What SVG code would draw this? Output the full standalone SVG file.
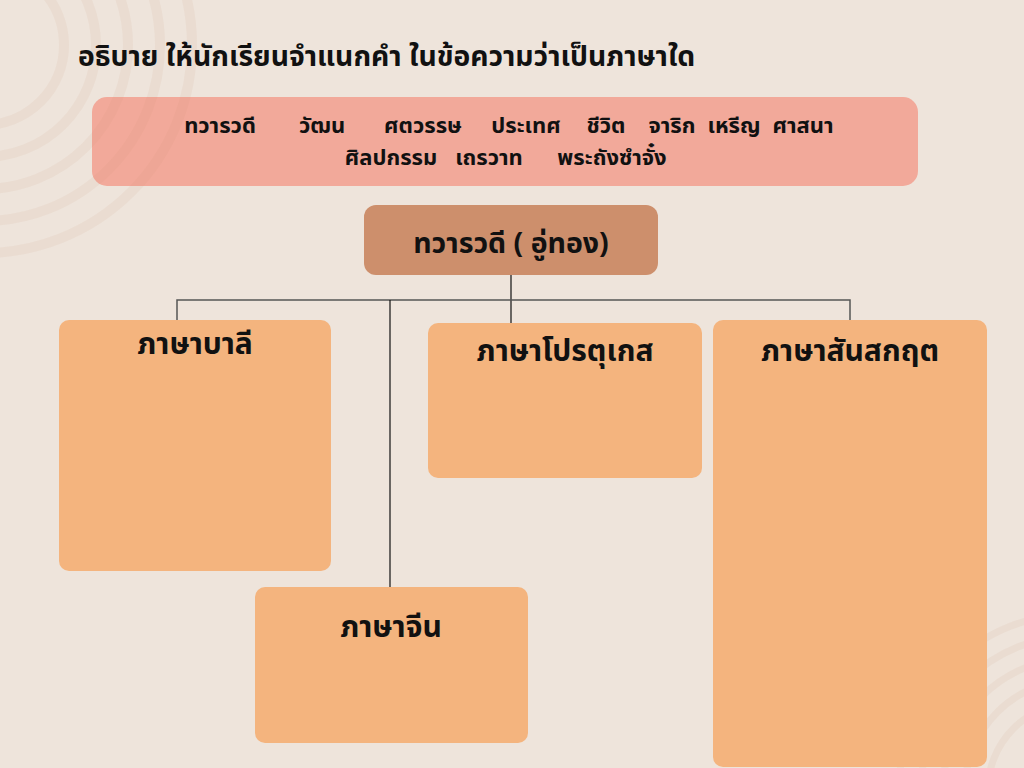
<svg xmlns="http://www.w3.org/2000/svg" width="1024" height="768" viewBox="0 0 1024 768">
<style>
.th{font-family:"Noto Sans Thai","Noto Sans","DejaVu Sans",sans-serif;fill:#111;}
.title{font-size:28.3px;font-weight:bold;}
.words{font-size:22px;font-weight:bold;text-anchor:middle;}
.head{font-size:28.5px;font-weight:bold;text-anchor:middle;}
.lbl{font-size:30px;font-weight:bold;text-anchor:middle;}
.box{fill:#F4B47E;}
.ring{fill:none;stroke:#C8906A;stroke-opacity:0.09;}
.ln{fill:none;stroke:#111;stroke-width:1.2;}
.lg{fill:none;stroke:#555;stroke-width:1.5;}
</style>
<rect x="0" y="0" width="1024" height="768" fill="#EEE4DB"/>

<g id="word-bank">
<rect x="92" y="97" width="826" height="89" rx="15" fill="#F2A99A"/>
<text class="th words" y="133"><tspan x="220">ทวารวดี</tspan><tspan x="322">วัฒน</tspan><tspan x="423">ศตวรรษ</tspan><tspan x="526">ประเทศ</tspan><tspan x="606">ชีวิต</tspan><tspan x="672">จาริก</tspan><tspan x="734">เหรีญ</tspan><tspan x="803">ศาสนา</tspan></text>
<text class="th words" y="165"><tspan x="391">ศิลปกรรม</tspan><tspan x="489">เถรวาท</tspan><tspan x="612">พระถังซำจั๋ง</tspan></text>
</g>

<g id="rings-tl">
<circle class="ring" cx="-16" cy="45" r="80" stroke-width="10"/>
<circle class="ring" cx="-16" cy="45" r="112" stroke-width="10"/>
<circle class="ring" cx="-16" cy="45" r="144" stroke-width="10"/>
<circle class="ring" cx="-16" cy="45" r="176" stroke-width="10"/>
<circle class="ring" cx="-16" cy="45" r="208" stroke-width="10"/>
</g>
<g id="rings-br">
<circle class="ring" cx="1075" cy="790" r="87" stroke-width="7"/>
<circle class="ring" cx="1075" cy="790" r="110" stroke-width="7"/>
<circle class="ring" cx="1075" cy="790" r="132" stroke-width="7"/>
<circle class="ring" cx="1075" cy="790" r="154" stroke-width="7"/>
<circle class="ring" cx="1075" cy="790" r="176" stroke-width="7"/>
</g>

<text class="th title" x="78" y="66">อธิบาย ให้นักเรียนจำแนกคำ ในข้อความว่าเป็นภาษาใด</text>

<g id="connectors">
<path class="ln" d="M511 275 V323"/>
<path class="lg" d="M177 320 V300 H850 V320"/>
<path class="ln" d="M390 300 V587"/>
</g>

<g id="root">
<rect x="364" y="205" width="294" height="70" rx="12" fill="#CD8F6C"/>
<text class="th head" x="511" y="253">ทวารวดี ( อู่ทอง)</text>
</g>

<g id="pali">
<rect class="box" x="59" y="320" width="272" height="251" rx="10"/>
<text class="th lbl" x="195" y="354">ภาษาบาลี</text>
</g>

<g id="portuguese">
<rect class="box" x="428" y="323" width="274" height="155" rx="10"/>
<text class="th lbl" x="565" y="361">ภาษาโปรตุเกส</text>
</g>

<g id="chinese">
<rect class="box" x="255" y="587" width="273" height="156" rx="10"/>
<text class="th lbl" x="391" y="637">ภาษาจีน</text>
</g>

<g id="sanskrit">
<rect class="box" x="713" y="320" width="274" height="447" rx="10"/>
<text class="th lbl" x="850" y="361">ภาษาสันสกฤต</text>
</g>
</svg>
